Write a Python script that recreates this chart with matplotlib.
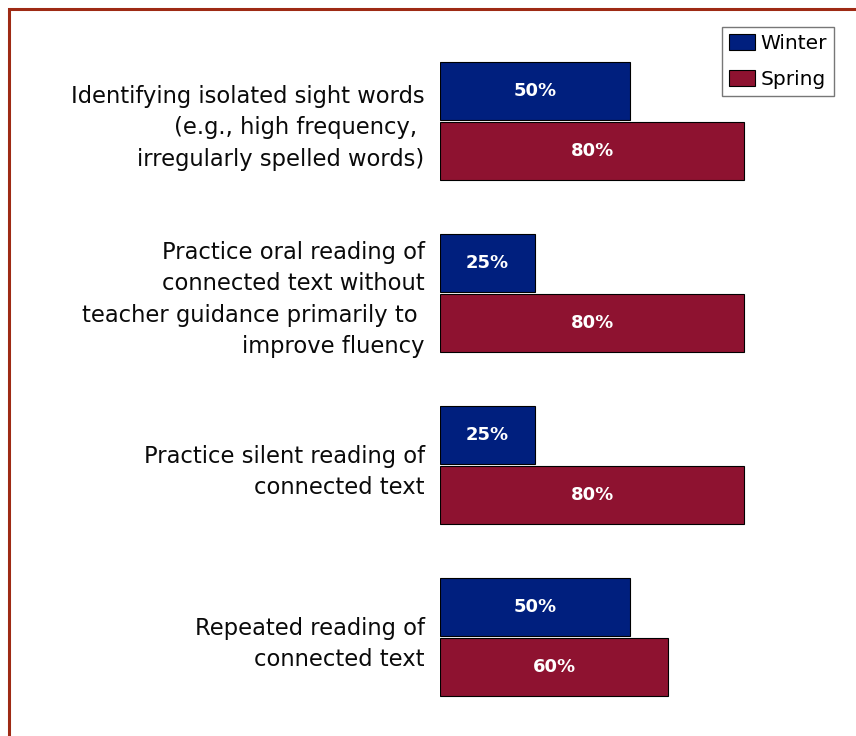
import matplotlib
matplotlib.use("Agg")
import matplotlib.pyplot as plt
from matplotlib.patches import Rectangle
import numpy as np

# survey categories, top to bottom
categories = [
    "Identifying isolated sight words\n(e.g., high frequency, \nirregularly spelled words)",
    "Practice oral reading of\nconnected text without\nteacher guidance primarily to \nimprove fluency",
    "Practice silent reading of\nconnected text",
    "Repeated reading of\nconnected text",
]
winter = [50, 25, 25, 50]
spring = [80, 80, 80, 60]

winter_color = "#001F7E"
spring_color = "#8E1230"
border_color = "#9E2A14"

plt.rcParams['font.family'] = ['DejaVu Sans']

fig = plt.figure(figsize=(8.56, 7.36), dpi=100)
ax = fig.add_axes([440 / 856, 13 / 736, 380 / 856, 688 / 736])

y = np.arange(len(categories))
h = 0.335
off = 0.175
bw = ax.barh(y - off, winter, height=h, color=winter_color, edgecolor="black", linewidth=0.8, label="Winter")
bs = ax.barh(y + off, spring, height=h, color=spring_color, edgecolor="black", linewidth=0.8, label="Spring")

for bars, vals in ((bw, winter), (bs, spring)):
    for b, v in zip(bars, vals):
        ax.text(b.get_width() / 2, b.get_y() + b.get_height() / 2, f"{v}%",
                ha="center", va="center", color="white", fontsize=13, fontweight="bold")

ax.set_xlim(0, 100)
ax.set_ylim(3.5, -0.5)
ax.set_yticks(y)
ax.set_yticklabels(categories, fontsize=16.3, color="#0a0a0a", multialignment="right", linespacing=1.47)
ax.tick_params(axis="y", length=0, pad=11)
ax.tick_params(axis="x", bottom=False, labelbottom=False)
for s in ax.spines.values():
    s.set_visible(False)

leg = fig.legend(handles=[bw, bs], labels=["Winter", "Spring"], loc="upper right",
                 bbox_to_anchor=(834 / 856, 1 - 27 / 736), fontsize=14.5,
                 frameon=True, fancybox=False, edgecolor="#777777", framealpha=1,
                 handlelength=1.3, handleheight=0.8, handletextpad=0.25,
                 borderpad=0.35, labelspacing=0.85, borderaxespad=0)
leg.get_frame().set_linewidth(1.0)

# outer border, running off the right and bottom edges
fig.patches.append(Rectangle((8.5 / 856, -0.1), 1.2, 1.1 - 9.5 / 736, transform=fig.transFigure,
                             fill=False, edgecolor=border_color, linewidth=2.2))

fig.savefig("out.png", dpi=100)
